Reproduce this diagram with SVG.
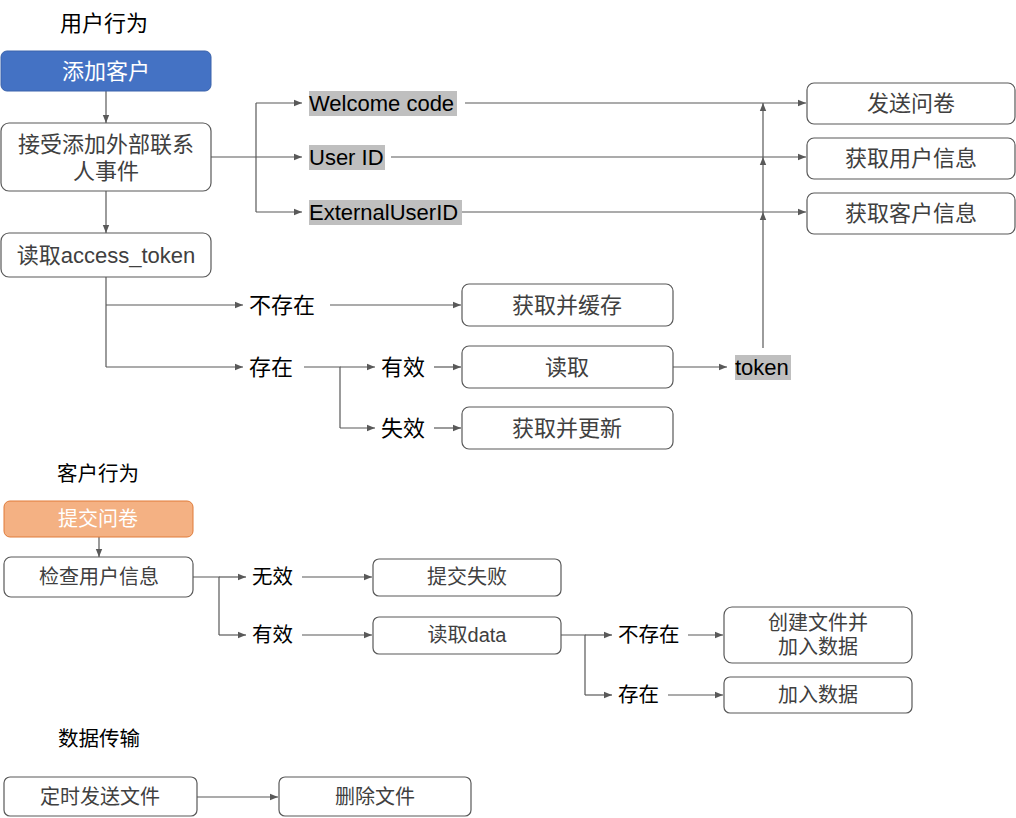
<svg xmlns="http://www.w3.org/2000/svg" width="1016" height="818" viewBox="0 0 1016 818">
<style>
text{font-family:"Liberation Sans","Noto Sans CJK SC",sans-serif;}
.box{fill:#fff;stroke:#595959;stroke-width:1.2;}
.bt{fill:#404040;font-size:22px;text-anchor:middle;}
.bs{fill:#404040;font-size:20px;text-anchor:middle;}
.lb{fill:#000;font-size:22px;}
.ls{fill:#000;font-size:20.5px;}
.title{fill:#000;font-size:22px;}
.ts{fill:#000;font-size:20.5px;}
.hl{fill:#bfbfbf;}
.c{fill:none;stroke:#595959;stroke-width:1.2;}
.ca{fill:none;stroke:#595959;stroke-width:1.2;marker-end:url(#ah);}
</style>
<defs>
<marker id="ah" viewBox="0 0 10 10" refX="10" refY="5" markerWidth="8" markerHeight="8" markerUnits="userSpaceOnUse" orient="auto">
<path d="M0,1 L10,5 L0,9 z" fill="#595959"/>
</marker>
</defs>
<rect width="1016" height="818" fill="#fff"/>

<text class="title" x="60" y="31">用户行为</text>
<text class="ts" x="57" y="481">客户行为</text>
<text class="ts" x="58" y="746">数据传输</text>

<g id="connectors">
<path class="ca" d="M106,91 V123"/>
<path class="ca" d="M106,191 V233"/>
<path class="c" d="M211,157 H256"/>
<path class="c" d="M256,103 V212"/>
<path class="ca" d="M256,103 H302"/>
<path class="ca" d="M256,157 H302"/>
<path class="ca" d="M256,212 H302"/>
<path class="ca" d="M465,103 H806"/>
<path class="ca" d="M391,157 H806"/>
<path class="ca" d="M462,212 H806"/>
<path class="ca" d="M763,348 V212"/>
<path class="ca" d="M763,212 V157"/>
<path class="ca" d="M763,157 V103"/>
<path class="c" d="M106,277 V367"/>
<path class="ca" d="M106,305 H243"/>
<path class="ca" d="M106,367 H243"/>
<path class="ca" d="M330,305 H461"/>
<path class="c" d="M304,367 H340 V428"/>
<path class="ca" d="M340,367 H375"/>
<path class="ca" d="M340,428 H375"/>
<path class="ca" d="M434,367 H461"/>
<path class="ca" d="M434,428 H461"/>
<path class="ca" d="M673,367 H727"/>
<path class="ca" d="M99,537 V557"/>
<path class="c" d="M193,577 H219 V635"/>
<path class="ca" d="M219,577 H246"/>
<path class="ca" d="M219,635 H246"/>
<path class="ca" d="M302,577 H372"/>
<path class="ca" d="M302,635 H372"/>
<path class="c" d="M561,635 H585 V695"/>
<path class="ca" d="M585,635 H612"/>
<path class="ca" d="M585,695 H612"/>
<path class="ca" d="M688,635 H723"/>
<path class="ca" d="M668,695 H723"/>
<path class="ca" d="M197,797 H278"/>
</g>

<g id="n-add"><rect x="1" y="51" width="210" height="40" rx="6" fill="#4472C4" stroke="#3a62ab" stroke-width="1"/><text x="106" y="79" font-size="22" fill="#fff" text-anchor="middle">添加客户</text></g>
<g id="n-event"><rect class="box" x="1" y="123" width="210" height="68" rx="8"/><text class="bt" x="106" y="152">接受添加外部联系</text><text class="bt" x="106" y="179">人事件</text></g>
<g id="n-token-read"><rect class="box" x="1" y="233" width="210" height="44" rx="8"/><text class="bt" x="106" y="263">读取access_token</text></g>

<g id="l-welcome"><rect class="hl" x="309" y="91" width="148" height="25"/><text class="lb" x="309" y="111">Welcome code</text></g>
<g id="l-userid"><rect class="hl" x="309" y="145" width="76" height="25"/><text class="lb" x="309" y="165">User ID</text></g>
<g id="l-ext"><rect class="hl" x="309" y="200" width="153" height="25"/><text class="lb" x="309" y="220">ExternalUserID</text></g>

<g id="n-send"><rect class="box" x="807" y="83" width="208" height="41" rx="7"/><text class="bt" x="911" y="111">发送问卷</text></g>
<g id="n-userinfo"><rect class="box" x="807" y="138" width="208" height="41" rx="7"/><text class="bt" x="911" y="166">获取用户信息</text></g>
<g id="n-custinfo"><rect class="box" x="807" y="193" width="208" height="41" rx="7"/><text class="bt" x="911" y="221">获取客户信息</text></g>

<g id="l-notexist"><text class="lb" x="249" y="313">不存在</text></g>
<g id="l-exist"><text class="lb" x="249" y="375">存在</text></g>
<g id="l-valid"><text class="lb" x="381" y="375">有效</text></g>
<g id="l-invalid"><text class="lb" x="381" y="436">失效</text></g>

<g id="n-cache"><rect class="box" x="462" y="284" width="211" height="42" rx="7"/><text class="bt" x="567" y="313">获取并缓存</text></g>
<g id="n-read"><rect class="box" x="462" y="346" width="211" height="42" rx="7"/><text class="bt" x="567" y="375">读取</text></g>
<g id="n-update"><rect class="box" x="462" y="407" width="211" height="42" rx="7"/><text class="bt" x="567" y="436">获取并更新</text></g>

<g id="l-token"><rect class="hl" x="735" y="355" width="56" height="25"/><text class="lb" x="735" y="375">token</text></g>

<g id="n-submit"><rect x="4" y="501" width="189" height="36" rx="6" fill="#F4B183" stroke="#E07B39" stroke-width="1"/><text x="98" y="526" font-size="20" fill="#fff" text-anchor="middle">提交问卷</text></g>
<g id="n-check"><rect class="box" x="4" y="557" width="189" height="40" rx="7"/><text class="bs" x="99" y="584">检查用户信息</text></g>
<g id="l-wx"><text class="ls" x="252" y="584">无效</text></g>
<g id="l-yx"><text class="ls" x="252" y="642">有效</text></g>
<g id="n-fail"><rect class="box" x="373" y="559" width="188" height="37" rx="6"/><text class="bs" x="467" y="584">提交失败</text></g>
<g id="n-readdata"><rect class="box" x="373" y="617" width="188" height="37" rx="6"/><text class="bs" x="467" y="642">读取data</text></g>
<g id="l-bcz"><text class="ls" x="618" y="642">不存在</text></g>
<g id="l-cz"><text class="ls" x="618" y="702">存在</text></g>
<g id="n-create"><rect class="box" x="724" y="607" width="188" height="56" rx="8"/><text class="bs" x="818" y="630">创建文件并</text><text class="bs" x="818" y="654">加入数据</text></g>
<g id="n-add-data"><rect class="box" x="724" y="677" width="188" height="36" rx="6"/><text class="bs" x="818" y="702">加入数据</text></g>

<g id="n-timer"><rect class="box" x="4" y="777" width="193" height="39" rx="6"/><text class="bs" x="100" y="804">定时发送文件</text></g>
<g id="n-delete"><rect class="box" x="279" y="777" width="192" height="39" rx="6"/><text class="bs" x="375" y="804">删除文件</text></g>
</svg>
